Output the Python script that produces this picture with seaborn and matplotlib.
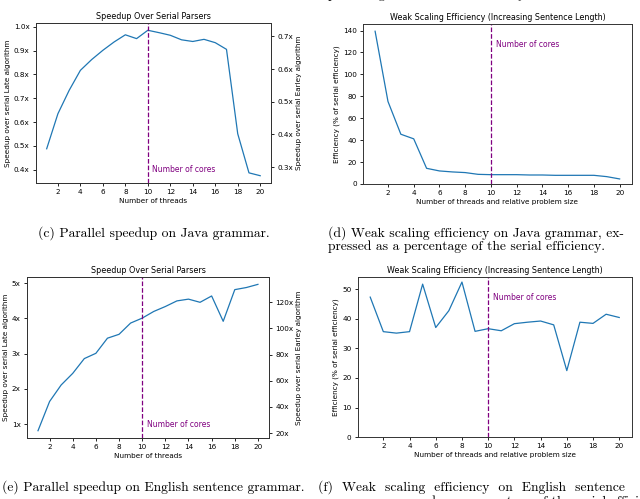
import matplotlib
matplotlib.use("Agg")
import matplotlib.pyplot as plt
import seaborn as sns
from matplotlib.ticker import FuncFormatter, MultipleLocator

# thread counts shared by all four panels
threads = list(range(1, 21))

# (c) Java grammar speedup over serial Late algorithm
java_speedup = [0.488, 0.635, 0.733, 0.817, 0.862, 0.901, 0.936, 0.966, 0.950, 0.985,
                0.975, 0.964, 0.945, 0.938, 0.947, 0.933, 0.905, 0.551, 0.387, 0.375]
java_earley_ratio = 0.73

# (d) Java grammar weak scaling efficiency (%)
java_eff = [139.4, 75.3, 45.4, 41.2, 14.3, 11.9, 11.0, 10.4, 8.8, 8.5,
            8.5, 8.5, 8.2, 8.2, 7.9, 7.9, 7.9, 7.9, 6.7, 4.6]

# (e) English sentence grammar speedup over serial Late algorithm
eng_speedup = [0.81, 1.64, 2.11, 2.44, 2.86, 3.01, 3.44, 3.55, 3.87, 4.01,
               4.20, 4.34, 4.50, 4.55, 4.46, 4.64, 3.92, 4.82, 4.88, 4.97]
eng_earley_ratio = 26.9

# (f) English sentence grammar weak scaling efficiency (%)
eng_eff = [47.4, 35.7, 35.2, 35.7, 51.8, 37.1, 42.8, 52.5, 35.8, 36.7,
           36.0, 38.4, 38.9, 39.3, 38.0, 22.5, 38.9, 38.5, 41.6, 40.5]

cores = 10
line_color = "#1f77b4"
fs = 5.2

plt.rcParams["axes.linewidth"] = 0.7
plt.rcParams["xtick.major.width"] = 0.6
plt.rcParams["ytick.major.width"] = 0.6
plt.rcParams["xtick.major.size"] = 2.5
plt.rcParams["ytick.major.size"] = 2.5
plt.rcParams["xtick.major.pad"] = 2
plt.rcParams["ytick.major.pad"] = 2
plt.rcParams["axes.edgecolor"] = "#333333"

fig = plt.figure(figsize=(6.4, 4.99), dpi=100)


def base_axes(rect, data, title, xlabel, ylabel):
    ax = fig.add_axes(rect)
    sns.lineplot(x=threads, y=data, ax=ax, color=line_color, linewidth=0.9)
    ax.axvline(cores, color="purple", linestyle="--", linewidth=0.9)
    ax.set_title(title, fontsize=fs + 0.6, pad=3)
    ax.set_xlabel(xlabel, fontsize=fs, labelpad=2)
    ax.set_ylabel(ylabel, fontsize=fs, labelpad=2)
    ax.set_xticks(range(2, 21, 2))
    ax.tick_params(labelsize=fs)
    return ax


def add_twin(ax, ratio, step, fmt):
    ax2 = ax.twinx()
    lo, hi = ax.get_ylim()
    ax2.set_ylim(lo * ratio, hi * ratio)
    ax2.yaxis.set_major_locator(MultipleLocator(step))
    ax2.yaxis.set_major_formatter(FuncFormatter(fmt))
    ax2.set_ylabel("Speedup over serial Earley algorithm", fontsize=fs, labelpad=2)
    ax2.tick_params(labelsize=fs)
    return ax2


# (c)
ax = base_axes([0.05625, 0.6333, 0.367, 0.3206], java_speedup, "Speedup Over Serial Parsers",
               "Number of threads", "Speedup over serial Late algorithm")
ax.yaxis.set_major_locator(MultipleLocator(0.1))
ax.yaxis.set_major_formatter(FuncFormatter(lambda v, p: f"{v:.1f}x"))
ax.text(10.4, 0.40, "Number of cores", color="purple", fontsize=fs + 0.3, va="center")
add_twin(ax, java_earley_ratio, 0.1, lambda v, p: f"{v:.1f}x")

# (d)
ax = base_axes([0.567, 0.6313, 0.4203, 0.3206], java_eff,
               "Weak Scaling Efficiency (Increasing Sentence Length)",
               "Number of threads and relative problem size", "Efficiency (% of serial efficiency)")
ax.set_ylim(0, 146)
ax.yaxis.set_major_locator(MultipleLocator(20))
ax.text(10.4, 127, "Number of cores", color="purple", fontsize=fs + 0.3, va="center")

# (e)
ax = base_axes([0.0422, 0.1222, 0.378, 0.3226], eng_speedup, "Speedup Over Serial Parsers",
               "Number of threads", "Speedup over serial Late algorithm")
ax.yaxis.set_major_locator(MultipleLocator(1))
ax.yaxis.set_major_formatter(FuncFormatter(lambda v, p: f"{v:.0f}x"))
ax.text(10.4, 1.0, "Number of cores", color="purple", fontsize=fs + 0.3, va="center")
add_twin(ax, eng_earley_ratio, 20, lambda v, p: f"{v:.0f}x")

# (f)
ax = base_axes([0.559, 0.1242, 0.428, 0.3206], eng_eff,
               "Weak Scaling Efficiency (Increasing Sentence Length)",
               "Number of threads and relative problem size", "Efficiency (% of serial efficiency)")
ax.set_ylim(0, 54.2)
ax.yaxis.set_major_locator(MultipleLocator(10))
ax.text(10.4, 47.3, "Number of cores", color="purple", fontsize=fs + 0.3, va="center")

# captions (LaTeX-like serif)
cap = dict(family="cmr10", fontsize=9.8, va="center", ha="left")
fig.text(328 / 640, 1 + 5 / 499, "percentage of the serial efficiency.", **cap)
fig.text(38 / 640, 1 - 233 / 499, "(c) Parallel speedup on Java grammar.", **cap)
fig.text(328 / 640, 1 - 233 / 499, "(d) Weak scaling efficiency on Java grammar, ex-", **cap)
fig.text(328 / 640, 1 - 247 / 499, "pressed as a percentage of the serial efficiency.", **cap)
fig.text(2 / 640, 1 - 487 / 499, "(e) Parallel speedup on English sentence grammar.", **cap)
fig.text(318 / 640, 1 - 487 / 499, "(f)  Weak  scaling  efficiency  on  English  sentence", **cap)
fig.text(318 / 640, 1 - 502 / 499, "grammar, expressed as a percentage of the serial efficiency.", **cap)

fig.savefig("out.png", dpi=100)
